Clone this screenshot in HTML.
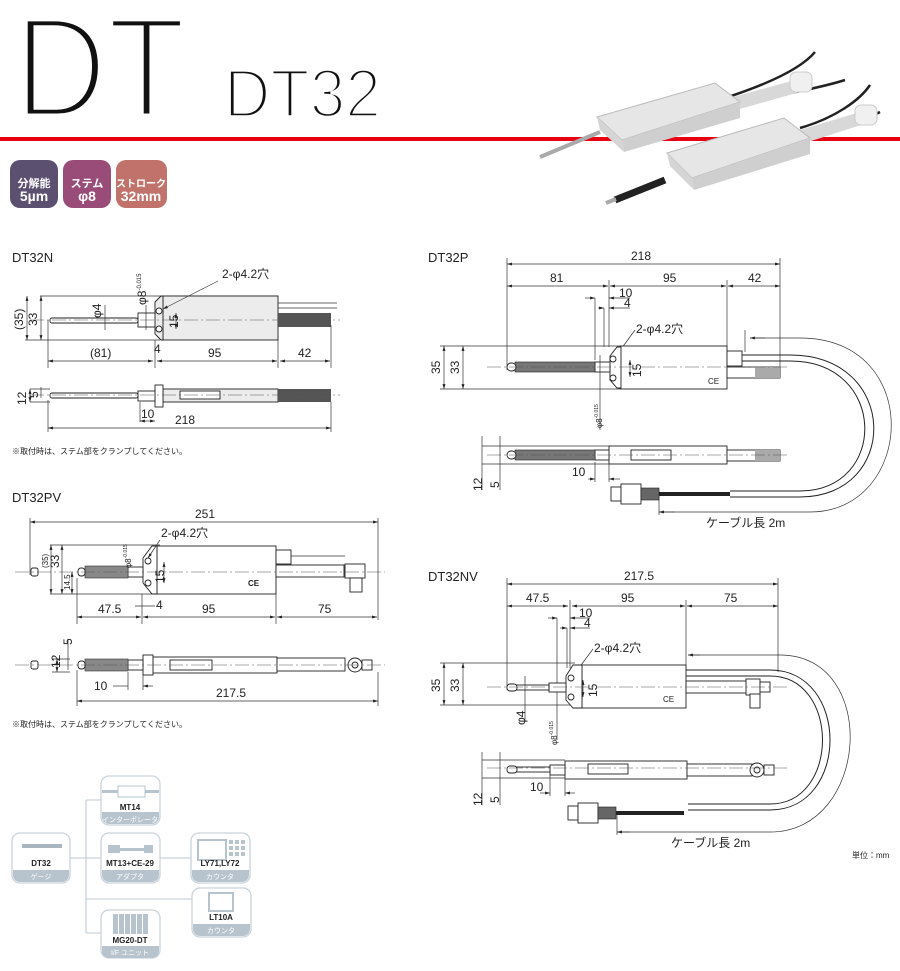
<!DOCTYPE html>
<html><head><meta charset="utf-8"><style>
html,body{margin:0;padding:0;background:#fff;width:900px;height:971px;overflow:hidden}
svg{display:block}
text{font-family:"Liberation Sans","Noto Sans CJK JP",sans-serif;fill:#222}
.d{stroke:#333;stroke-width:.7;fill:none}
.o{stroke:#222;stroke-width:.9;fill:#fff}
.g{stroke:#222;stroke-width:.9;fill:#ececec}
.c{stroke:#555;stroke-width:.5;stroke-dasharray:14 3 2 3;fill:none}
.t{font-size:12px}
.s{font-size:8px}
.bx{fill:#fff;stroke:#c9d3db;stroke-width:1.3}
.bl{stroke:#c9d3db;stroke-width:1.3;fill:none}
.bt{font-size:8px;font-weight:bold;fill:#222}
.bb{font-size:7px;fill:#fff}
</style></head><body>
<svg width="900" height="971" viewBox="0 0 900 971" xmlns="http://www.w3.org/2000/svg">
<defs>
<marker id="a" viewBox="0 0 10 10" refX="10" refY="5" markerWidth="7" markerHeight="7" orient="auto-start-reverse"><path d="M0,2L10,5L0,8z" fill="#222"/></marker>
</defs>
<!-- title -->
<text x="14" y="117" font-size="144" textLength="172" lengthAdjust="spacingAndGlyphs" style="fill:#111;stroke:#fff;stroke-width:7">DT</text>
<text x="224" y="117" font-size="69" textLength="157" lengthAdjust="spacingAndGlyphs" style="fill:#111;stroke:#fff;stroke-width:3.5">DT32</text>
<rect x="0" y="137" width="900" height="4" fill="#e60012"/>
<!-- photo -->
<g>
<path d="M725,98 C765,85 800,70 815,52" stroke="#222" stroke-width="2.5" fill="none"/>
<path d="M735,104 C780,95 820,88 845,80" stroke="#222" stroke-width="2.5" fill="none"/>
<path d="M800,128 C835,118 860,100 870,85" stroke="#222" stroke-width="2.5" fill="none"/>
<path d="M805,134 C840,128 865,120 880,112" stroke="#222" stroke-width="2.5" fill="none"/>
<polygon points="715,102 795,80 800,92 722,114" fill="#d8d8d8"/>
<rect x="790" y="72" width="22" height="20" rx="6" fill="#f0f0f0" stroke="#ccc"/>
<polygon points="597,117 715,83 740,102 622,140" fill="#e6e6e6" stroke="#bbb"/>
<polygon points="622,140 740,102 740,118 624,152" fill="#cfcfcf"/>
<polygon points="597,117 622,140 624,152 600,130" fill="#d5d5d5"/>
<line x1="540" y1="157" x2="600" y2="132" stroke="#aaa" stroke-width="4"/>
<polygon points="800,130 860,112 864,124 808,142" fill="#d8d8d8"/>
<rect x="855" y="105" width="22" height="20" rx="6" fill="#f0f0f0" stroke="#ccc"/>
<polygon points="667,153 784,118 810,138 692,178" fill="#e6e6e6" stroke="#bbb"/>
<polygon points="692,178 810,138 810,154 694,190" fill="#cfcfcf"/>
<polygon points="667,153 692,178 694,190 670,166" fill="#d5d5d5"/>
<line x1="615" y1="200" x2="665" y2="180" stroke="#222" stroke-width="7"/>
<line x1="606" y1="203" x2="616" y2="199" stroke="#aaa" stroke-width="4"/>
</g>
<!-- badges -->
<rect x="10" y="160" width="48" height="48" rx="10" fill="#5c5070"/>
<rect x="63" y="160" width="48" height="48" rx="10" fill="#9a4c78"/>
<rect x="116" y="160" width="51" height="48" rx="10" fill="#c0726b"/>
<g font-weight="bold" text-anchor="middle" style="fill:#fff">
<text x="34" y="187" font-size="11" style="fill:#fff">分解能</text><text x="34" y="201" font-size="14" style="fill:#fff">5µm</text>
<text x="87" y="187" font-size="11" style="fill:#fff">ステム</text><text x="87" y="201" font-size="14" style="fill:#fff">φ8</text>
<text x="141" y="187" font-size="10" style="fill:#fff">ストローク</text><text x="141" y="201" font-size="14" style="fill:#fff">32mm</text>
</g>

<!-- DT32N -->
<text x="12" y="262" font-size="13">DT32N</text>
<line class="d" x1="40" y1="296" x2="278" y2="296"/><line class="d" x1="25" y1="340" x2="160" y2="340"/>
<rect class="g" x="163" y="296" width="115" height="44"/>
<polygon class="g" points="155,302 161,296 163,296 163,340 161,340 155,334"/>
<rect class="o" x="138" y="313" width="17" height="14"/>
<rect class="o" x="50" y="318" width="88" height="5" rx="2"/>
<rect x="278" y="313" width="53" height="14" fill="#555"/>
<line class="d" x1="278" y1="303" x2="337" y2="303"/><line class="d" x1="278" y1="308" x2="337" y2="308"/>
<line class="c" x1="30" y1="320" x2="340" y2="320"/>
<circle class="o" cx="159" cy="311" r="3"/><circle class="o" cx="159" cy="329" r="3"/>
<line class="d" x1="27" y1="296" x2="27" y2="340" marker-start="url(#a)" marker-end="url(#a)"/>
<line class="d" x1="41" y1="296" x2="41" y2="340" marker-start="url(#a)" marker-end="url(#a)"/>
<text class="t" transform="translate(23,330) rotate(-90)">(35)</text>
<text class="t" transform="translate(37,326) rotate(-90)">33</text>
<line class="d" x1="105" y1="305" x2="105" y2="330"/>
<text class="t" transform="translate(101,318) rotate(-90)">φ4</text>
<line class="d" x1="146" y1="305" x2="146" y2="330"/>
<text class="t" transform="translate(146,305) rotate(-90)">φ8<tspan font-size="6" dy="-5">-0.015</tspan></text>
<line class="d" x1="176" y1="313" x2="176" y2="329" marker-start="url(#a)" marker-end="url(#a)"/>
<text class="t" transform="translate(178,328) rotate(-90)">15</text>
<text class="t" x="222" y="278">2-φ4.2穴</text>
<line class="d" x1="218" y1="281" x2="163" y2="309" marker-end="url(#a)"/>
<line class="d" x1="48" y1="320" x2="48" y2="368"/><line class="d" x1="155" y1="340" x2="155" y2="368"/><line class="d" x1="278" y1="340" x2="278" y2="368"/><line class="d" x1="331" y1="325" x2="331" y2="368"/>
<line class="d" x1="48" y1="361" x2="153" y2="361" marker-start="url(#a)" marker-end="url(#a)"/>
<line class="d" x1="157" y1="361" x2="277" y2="361" marker-start="url(#a)" marker-end="url(#a)"/>
<line class="d" x1="280" y1="361" x2="330" y2="361" marker-start="url(#a)" marker-end="url(#a)"/>
<text class="t" x="90" y="357">(81)</text><text class="t" x="154" y="353">4</text><text class="t" x="208" y="357">95</text><text class="t" x="298" y="357">42</text>
<!-- side -->
<rect class="g" x="163" y="389" width="115" height="13"/>
<rect class="o" x="155" y="385" width="8" height="22"/>
<rect class="o" x="138" y="391" width="17" height="10"/>
<rect class="o" x="50" y="393" width="88" height="5" rx="2"/>
<rect x="278" y="389" width="53" height="13" fill="#555"/>
<rect class="o" x="180" y="391" width="40" height="8"/>
<line class="c" x1="30" y1="395" x2="340" y2="395"/>
<line class="d" x1="30" y1="389" x2="50" y2="389"/><line class="d" x1="30" y1="402" x2="50" y2="402"/>
<line class="d" x1="30" y1="389" x2="30" y2="402" marker-start="url(#a)" marker-end="url(#a)"/>
<line class="d" x1="41" y1="387" x2="41" y2="398"/>
<text class="t" transform="translate(26,405) rotate(-90)">12</text><text class="t" transform="translate(38,398) rotate(-90)">5</text>
<line class="d" x1="48" y1="400" x2="48" y2="432"/><line class="d" x1="331" y1="402" x2="331" y2="432"/><line class="d" x1="140" y1="402" x2="140" y2="422"/>
<line class="d" x1="140" y1="421" x2="155" y2="421" marker-start="url(#a)" marker-end="url(#a)"/>
<text class="t" x="141" y="418">10</text>
<line class="d" x1="48" y1="428" x2="331" y2="428" marker-start="url(#a)" marker-end="url(#a)"/>
<text class="t" x="175" y="424">218</text>
<text x="12" y="454" font-size="8">※取付時は、ステム部をクランプしてください。</text>

<!-- DT32PV -->
<text x="12" y="502" font-size="13">DT32PV</text>
<line class="d" x1="30" y1="522" x2="378" y2="522" marker-start="url(#a)" marker-end="url(#a)"/>
<text class="t" x="195" y="518">251</text>
<line class="d" x1="30" y1="518" x2="30" y2="575"/><line class="d" x1="378" y1="518" x2="378" y2="620"/>
<line class="d" x1="50" y1="545" x2="160" y2="545"/><line class="d" x1="50" y1="594" x2="160" y2="594"/>
<rect class="o" x="157" y="546" width="119" height="48"/>
<polygon class="o" points="143,558 152,546 157,546 157,594 152,594 143,583"/>
<rect class="o" x="128" y="567" width="15" height="10"/>
<rect x="85" y="566" width="43" height="12" fill="#888" stroke="#333" stroke-width=".6"/>
<rect class="o" x="78" y="568" width="7" height="8" rx="3"/>
<rect class="o" x="31" y="568" width="7" height="8" rx="2"/>
<rect class="o" x="276" y="565" width="68" height="12"/>
<rect class="o" x="276" y="550" width="15" height="14"/>
<line class="d" x1="291" y1="556" x2="345" y2="556"/>
<rect class="o" x="345" y="564" width="20" height="14"/>
<rect class="o" x="350" y="578" width="12" height="14"/>
<line class="c" x1="15" y1="572" x2="385" y2="572"/>
<circle class="o" cx="148" cy="561" r="3"/><circle class="o" cx="148" cy="583" r="3"/>
<text x="248" y="586" font-size="8" font-weight="bold">CE</text>
<line class="d" x1="51" y1="545" x2="51" y2="594" marker-start="url(#a)" marker-end="url(#a)"/>
<line class="d" x1="62" y1="545" x2="62" y2="594" marker-start="url(#a)" marker-end="url(#a)"/>
<line class="d" x1="72" y1="572" x2="72" y2="594" marker-start="url(#a)" marker-end="url(#a)"/>
<text class="s" transform="translate(48,568) rotate(-90)">(35)</text><text class="t" transform="translate(59,568) rotate(-90)">33</text><text class="s" transform="translate(70,590) rotate(-90)">14.5</text>
<text class="s" transform="translate(131,568) rotate(-90)">φ8<tspan font-size="5" dy="-4">-0.015</tspan></text>
<line class="d" x1="164" y1="562" x2="164" y2="583" marker-start="url(#a)" marker-end="url(#a)"/>
<text class="t" transform="translate(164,583) rotate(-90)">15</text>
<text class="t" x="161" y="537">2-φ4.2穴</text>
<line class="d" x1="160" y1="540" x2="148" y2="558" marker-end="url(#a)"/>
<line class="d" x1="77" y1="578" x2="77" y2="624"/><line class="d" x1="142" y1="594" x2="142" y2="624"/><line class="d" x1="276" y1="578" x2="276" y2="624"/>
<line class="d" x1="135" y1="606" x2="155" y2="606"/><text class="t" x="156" y="609">4</text>
<line class="d" x1="77" y1="617" x2="141" y2="617" marker-start="url(#a)" marker-end="url(#a)"/>
<line class="d" x1="143" y1="617" x2="275" y2="617" marker-start="url(#a)" marker-end="url(#a)"/>
<line class="d" x1="277" y1="617" x2="377" y2="617" marker-start="url(#a)" marker-end="url(#a)"/>
<text class="t" x="98" y="613">47.5</text><text class="t" x="202" y="613">95</text><text class="t" x="318" y="613">75</text>
<!-- PV side -->
<rect class="o" x="153" y="657" width="124" height="16"/>
<rect class="o" x="143" y="655" width="10" height="20"/>
<rect class="o" x="128" y="660" width="15" height="10"/>
<rect x="85" y="659" width="43" height="12" fill="#888" stroke="#333" stroke-width=".6"/>
<rect class="o" x="78" y="661" width="7" height="8" rx="3"/>
<rect class="o" x="31" y="661" width="7" height="8" rx="2"/>
<rect class="o" x="170" y="660" width="42" height="10"/>
<rect class="o" x="277" y="658" width="68" height="13"/>
<circle class="o" cx="355" cy="665" r="7"/><circle class="o" cx="355" cy="665" r="3"/>
<rect class="o" x="362" y="660" width="10" height="10"/>
<line class="c" x1="15" y1="665" x2="385" y2="665"/>
<line class="d" x1="52" y1="659" x2="70" y2="659"/><line class="d" x1="52" y1="672" x2="70" y2="672"/>
<line class="d" x1="57" y1="659" x2="57" y2="672" marker-start="url(#a)" marker-end="url(#a)"/>
<line class="d" x1="68" y1="640" x2="68" y2="670"/>
<text class="t" transform="translate(60,668) rotate(-90)">12</text><text class="t" transform="translate(72,645) rotate(-90)">5</text>
<line class="d" x1="77" y1="670" x2="77" y2="706"/><line class="d" x1="378" y1="672" x2="378" y2="706"/><line class="d" x1="128" y1="672" x2="128" y2="690"/><line class="d" x1="143" y1="675" x2="143" y2="690"/>
<line class="d" x1="113" y1="686" x2="128" y2="686"/><line class="d" x1="143" y1="686" x2="153" y2="686" marker-start="url(#a)"/>
<text class="t" x="94" y="690">10</text>
<line class="d" x1="77" y1="701" x2="378" y2="701" marker-start="url(#a)" marker-end="url(#a)"/>
<text class="t" x="216" y="697">217.5</text>
<text x="12" y="727" font-size="8">※取付時は、ステム部をクランプしてください。</text>

<!-- DT32P -->
<text x="428" y="262" font-size="13">DT32P</text>
<line class="d" x1="507" y1="264" x2="780" y2="264" marker-start="url(#a)" marker-end="url(#a)"/>
<text class="t" x="631" y="260">218</text>
<line class="d" x1="507" y1="286" x2="608" y2="286" marker-start="url(#a)" marker-end="url(#a)"/>
<line class="d" x1="610" y1="286" x2="726" y2="286" marker-start="url(#a)" marker-end="url(#a)"/>
<line class="d" x1="728" y1="286" x2="780" y2="286" marker-start="url(#a)" marker-end="url(#a)"/>
<text class="t" x="550" y="282">81</text><text class="t" x="663" y="282">95</text><text class="t" x="748" y="282">42</text>
<line class="d" x1="507" y1="258" x2="507" y2="370"/><line class="d" x1="780" y1="258" x2="780" y2="375"/><line class="d" x1="727" y1="280" x2="727" y2="347"/>
<line class="d" x1="609" y1="280" x2="609" y2="347"/><line class="d" x1="595" y1="298" x2="595" y2="360"/><line class="d" x1="604" y1="308" x2="604" y2="347"/>
<line class="d" x1="585" y1="298" x2="595" y2="298" marker-end="url(#a)"/><line class="d" x1="609" y1="298" x2="630" y2="298" marker-start="url(#a)"/>
<line class="d" x1="598" y1="308" x2="604" y2="308" marker-end="url(#a)"/><line class="d" x1="609" y1="308" x2="630" y2="308" marker-start="url(#a)"/>
<text class="t" x="619" y="297">10</text><text class="t" x="624" y="307">4</text>
<text class="t" x="636" y="333">2-φ4.2穴</text>
<line class="d" x1="635" y1="330" x2="616" y2="356" marker-end="url(#a)"/>
<line class="d" x1="440" y1="346" x2="620" y2="346"/><line class="d" x1="440" y1="389" x2="620" y2="389"/>
<rect class="o" x="620" y="346" width="107" height="43"/>
<polygon class="o" points="610,356 617,347 621,347 621,388 617,388 610,380"/>
<rect class="o" x="595" y="362" width="15" height="10"/>
<rect x="515" y="362" width="80" height="10" fill="#777" stroke="#222" stroke-width=".6"/>
<rect class="o" x="507" y="363" width="9" height="8" rx="4"/>
<circle class="o" cx="613" cy="359" r="3"/><circle class="o" cx="613" cy="378" r="3"/>
<rect class="o" x="727" y="351" width="15" height="15"/>
<rect class="o" x="727" y="367" width="53" height="11"/><rect x="755" y="367" width="25" height="11" fill="#aaa"/>
<line class="c" x1="487" y1="367" x2="790" y2="367"/>
<text x="708" y="384" font-size="8">CE</text>
<line class="d" x1="444" y1="346" x2="444" y2="389" marker-start="url(#a)" marker-end="url(#a)"/>
<line class="d" x1="463" y1="346" x2="463" y2="389" marker-start="url(#a)" marker-end="url(#a)"/>
<text class="t" transform="translate(440,374) rotate(-90)">35</text><text class="t" transform="translate(459,374) rotate(-90)">33</text>
<line class="d" x1="630" y1="360" x2="630" y2="377" marker-start="url(#a)" marker-end="url(#a)"/>
<text class="t" transform="translate(641,377) rotate(-90)">15</text>
<line class="d" x1="600" y1="355" x2="600" y2="430"/>
<text class="s" transform="translate(602,428) rotate(-90)">φ8<tspan font-size="5" dy="-4">-0.015</tspan></text>
<!-- cable P -->
<path d="M742,355 L790,355 C900,355 900,497 800,497 L730,497" stroke="#222" stroke-width="1" fill="none"/>
<path d="M742,361 L790,361 C888,361 888,491 800,491 L730,491" stroke="#222" stroke-width="1" fill="none"/>
<rect x="720" y="489" width="8" height="10" fill="#fff"/>
<path d="M750,338 L800,338 C925,338 915,512 810,512 L659,512" class="d"/>
<line class="d" x1="750" y1="338" x2="765" y2="338" marker-start="url(#a)"/>
<line class="d" x1="659" y1="512" x2="675" y2="512" marker-start="url(#a)"/>
<line class="d" x1="659" y1="490" x2="659" y2="515"/><line class="d" x1="745" y1="330" x2="745" y2="352"/>
<rect class="o" x="611" y="487" width="10" height="14"/>
<rect class="o" x="621" y="484" width="20" height="20"/>
<rect x="641" y="488" width="18" height="12" fill="#666" stroke="#222" stroke-width=".6"/>
<line x1="659" y1="494" x2="730" y2="494" stroke="#222" stroke-width="4"/>
<text class="t" x="706" y="527">ケーブル長 2m</text>
<!-- P side -->
<rect class="o" x="609" y="446" width="118" height="18"/>
<rect class="o" x="595" y="450" width="14" height="10"/>
<rect x="515" y="450" width="80" height="10" fill="#777" stroke="#222" stroke-width=".6"/>
<rect class="o" x="507" y="451" width="9" height="8" rx="4"/>
<rect class="o" x="631" y="450" width="40" height="10"/>
<rect class="o" x="727" y="450" width="53" height="11"/><rect x="755" y="450" width="25" height="11" fill="#aaa"/>
<line class="c" x1="487" y1="455" x2="790" y2="455"/>
<line class="d" x1="482" y1="446" x2="609" y2="446"/><line class="d" x1="482" y1="464" x2="609" y2="464"/>
<line class="d" x1="482" y1="436" x2="482" y2="490"/><line class="d" x1="500" y1="436" x2="500" y2="490"/>
<text class="t" transform="translate(482,491) rotate(-90)">12</text><text class="t" transform="translate(499,488) rotate(-90)">5</text>
<line class="d" x1="595" y1="462" x2="595" y2="482"/><line class="d" x1="609" y1="464" x2="609" y2="482"/>
<line class="d" x1="588" y1="479" x2="595" y2="479" marker-end="url(#a)"/><line class="d" x1="609" y1="479" x2="620" y2="479" marker-start="url(#a)"/>
<text class="t" x="572" y="476">10</text>

<!-- DT32NV -->
<text x="428" y="581" font-size="13">DT32NV</text>
<line class="d" x1="507" y1="584" x2="778" y2="584" marker-start="url(#a)" marker-end="url(#a)"/>
<text class="t" x="624" y="580">217.5</text>
<line class="d" x1="507" y1="606" x2="568" y2="606" marker-start="url(#a)" marker-end="url(#a)"/>
<line class="d" x1="572" y1="606" x2="685" y2="606" marker-start="url(#a)" marker-end="url(#a)"/>
<line class="d" x1="687" y1="606" x2="778" y2="606" marker-start="url(#a)" marker-end="url(#a)"/>
<text class="t" x="526" y="602">47.5</text><text class="t" x="621" y="602">95</text><text class="t" x="724" y="602">75</text>
<line class="d" x1="507" y1="578" x2="507" y2="690"/><line class="d" x1="778" y1="578" x2="778" y2="672"/><line class="d" x1="686" y1="600" x2="686" y2="668"/>
<line class="d" x1="570" y1="600" x2="570" y2="668"/><line class="d" x1="557" y1="618" x2="557" y2="740"/><line class="d" x1="567" y1="628" x2="567" y2="668"/>
<line class="d" x1="548" y1="618" x2="557" y2="618" marker-end="url(#a)"/><line class="d" x1="570" y1="618" x2="590" y2="618" marker-start="url(#a)"/>
<line class="d" x1="560" y1="628" x2="567" y2="628" marker-end="url(#a)"/><line class="d" x1="570" y1="628" x2="590" y2="628" marker-start="url(#a)"/>
<text class="t" x="579" y="617">10</text><text class="t" x="584" y="627">4</text>
<text class="t" x="594" y="652">2-φ4.2穴</text>
<line class="d" x1="593" y1="649" x2="573" y2="676" marker-end="url(#a)"/>
<line class="d" x1="440" y1="663" x2="575" y2="663"/><line class="d" x1="440" y1="705" x2="575" y2="705"/>
<rect class="o" x="582" y="665" width="104" height="43"/>
<polygon class="o" points="566,676 573,665 582,665 582,708 573,708 566,700"/>
<rect class="o" x="549" y="683" width="17" height="9"/>
<rect class="o" x="515" y="685" width="34" height="5"/>
<rect class="o" x="507" y="684" width="10" height="7" rx="3"/>
<circle class="o" cx="571" cy="678" r="3"/><circle class="o" cx="571" cy="697" r="3"/>
<rect class="o" x="686" y="681" width="70" height="12"/>
<rect class="o" x="746" y="679" width="14" height="16"/><rect class="o" x="760" y="682" width="10" height="10"/>
<rect class="o" x="750" y="694" width="10" height="14"/>
<line class="c" x1="487" y1="687" x2="790" y2="687"/>
<text x="663" y="702" font-size="8">CE</text>
<line class="d" x1="444" y1="663" x2="444" y2="705" marker-start="url(#a)" marker-end="url(#a)"/>
<line class="d" x1="463" y1="663" x2="463" y2="705" marker-start="url(#a)" marker-end="url(#a)"/>
<text class="t" transform="translate(440,692) rotate(-90)">35</text><text class="t" transform="translate(459,692) rotate(-90)">33</text>
<line class="d" x1="583" y1="680" x2="583" y2="697" marker-start="url(#a)" marker-end="url(#a)"/>
<text class="t" transform="translate(597,697) rotate(-90)">15</text>
<line class="d" x1="525" y1="676" x2="525" y2="722" />
<text class="t" transform="translate(525,725) rotate(-90)">φ4</text>
<text class="s" transform="translate(557,745) rotate(-90)">φ8<tspan font-size="5" dy="-4">-0.015</tspan></text>
<!-- NV cable -->
<path d="M686,670 L770,670 C850,670 850,810 770,810 L686,810" stroke="#222" stroke-width="1" fill="none"/>
<path d="M686,676 L770,676 C840,676 840,804 770,804 L686,804" stroke="#222" stroke-width="1" fill="none"/>
<rect x="680" y="802" width="8" height="10" fill="#fff"/>
<path d="M688,655 L780,655 C880,655 870,832 770,832 L617,832" class="d"/>
<line class="d" x1="688" y1="655" x2="700" y2="655" marker-start="url(#a)"/>
<line class="d" x1="617" y1="832" x2="630" y2="832" marker-start="url(#a)"/>
<line class="d" x1="617" y1="815" x2="617" y2="835"/>
<rect class="o" x="568" y="806" width="10" height="14"/>
<rect class="o" x="578" y="803" width="20" height="20"/>
<rect x="598" y="807" width="18" height="12" fill="#666" stroke="#222" stroke-width=".6"/>
<line x1="616" y1="813" x2="684" y2="813" stroke="#222" stroke-width="4"/>
<text class="t" x="671" y="847">ケーブル長 2m</text>
<text x="852" y="858" font-size="8">単位：mm</text>
<!-- NV side -->
<rect class="o" x="565" y="761" width="122" height="18"/>
<rect class="o" x="550" y="765" width="15" height="10"/>
<rect class="o" x="515" y="767" width="35" height="5"/>
<rect class="o" x="507" y="766" width="10" height="7" rx="3"/>
<rect class="o" x="588" y="764" width="40" height="10"/>
<rect class="o" x="687" y="764" width="65" height="12"/>
<circle class="o" cx="757" cy="770" r="7"/><circle class="o" cx="757" cy="770" r="3"/>
<rect class="o" x="764" y="765" width="10" height="10"/>
<line class="c" x1="487" y1="768" x2="790" y2="768"/>
<line class="d" x1="482" y1="760" x2="565" y2="760"/><line class="d" x1="482" y1="778" x2="565" y2="778"/>
<line class="d" x1="482" y1="752" x2="482" y2="805"/><line class="d" x1="500" y1="752" x2="500" y2="805"/>
<text class="t" transform="translate(482,806) rotate(-90)">12</text><text class="t" transform="translate(499,803) rotate(-90)">5</text>
<line class="d" x1="550" y1="775" x2="550" y2="796"/><line class="d" x1="565" y1="779" x2="565" y2="796"/>
<line class="d" x1="540" y1="793" x2="550" y2="793" marker-end="url(#a)"/><line class="d" x1="565" y1="793" x2="575" y2="793" marker-start="url(#a)"/>
<text class="t" x="530" y="791">10</text>

<!-- system diagram -->
<path class="bl" d="M70,858 L101,858 M86,800 L86,933 M86,800 L101,800 M86,933 L101,933 M86,899 L192,899 M160,858 L191,858"/>
<g>
<rect class="bx" x="12" y="833" width="58" height="50" rx="8"/>
<path d="M13,870 H69 V875 a7,7 0 0 1 -7,7 H20 a7,7 0 0 1 -7,-7z" fill="#b7c4ce"/>
<rect x="22" y="844" width="40" height="4" fill="#a9b6c0"/>
<text class="bt" x="41" y="866" text-anchor="middle">DT32</text><text class="bb" x="41" y="879" text-anchor="middle">ゲージ</text>
</g>
<g>
<rect class="bx" x="101" y="776" width="59" height="49" rx="8"/>
<path d="M102,812 H159 V817 a7,7 0 0 1 -7,7 H109 a7,7 0 0 1 -7,-7z" fill="#b7c4ce"/>
<rect x="102" y="790" width="57" height="3" fill="#b7c4ce"/><rect x="118" y="786" width="27" height="11" fill="#fff" stroke="#b7c4ce"/>
<text class="bt" x="130" y="810" text-anchor="middle">MT14</text><text class="bb" x="130" y="822" text-anchor="middle">インターポレータ</text>
</g>
<g>
<rect class="bx" x="101" y="833" width="59" height="50" rx="8"/>
<path d="M102,870 H159 V875 a7,7 0 0 1 -7,7 H109 a7,7 0 0 1 -7,-7z" fill="#b7c4ce"/>
<rect x="108" y="845" width="12" height="8" fill="#b7c4ce"/><rect x="120" y="848" width="25" height="3" fill="#b7c4ce"/><rect x="144" y="845" width="9" height="8" fill="#b7c4ce"/>
<text class="bt" x="130" y="866" text-anchor="middle">MT13+CE-29</text><text class="bb" x="130" y="879" text-anchor="middle">アダプタ</text>
</g>
<g>
<rect class="bx" x="191" y="833" width="59" height="50" rx="8"/>
<path d="M192,870 H249 V875 a7,7 0 0 1 -7,7 H199 a7,7 0 0 1 -7,-7z" fill="#b7c4ce"/>
<rect x="198" y="840" width="28" height="20" fill="#fff" stroke="#b7c4ce" stroke-width="2"/>
<g fill="#b7c4ce"><rect x="229" y="840" width="4" height="4"/><rect x="235" y="840" width="4" height="4"/><rect x="241" y="840" width="4" height="4"/><rect x="229" y="846" width="4" height="4"/><rect x="235" y="846" width="4" height="4"/><rect x="241" y="846" width="4" height="4"/><rect x="229" y="852" width="4" height="4"/><rect x="235" y="852" width="4" height="4"/><rect x="241" y="852" width="4" height="4"/></g>
<text class="bt" x="220" y="866" text-anchor="middle">LY71,LY72</text><text class="bb" x="220" y="879" text-anchor="middle">カウンタ</text>
</g>
<g>
<rect class="bx" x="192" y="888" width="59" height="49" rx="8"/>
<path d="M193,924 H250 V929 a7,7 0 0 1 -7,7 H200 a7,7 0 0 1 -7,-7z" fill="#b7c4ce"/>
<rect x="209" y="893" width="24" height="18" fill="#fff" stroke="#b7c4ce" stroke-width="2"/>
<text class="bt" x="221" y="920" text-anchor="middle">LT10A</text><text class="bb" x="221" y="933" text-anchor="middle">カウンタ</text>
</g>
<g>
<rect class="bx" x="101" y="910" width="59" height="48" rx="8"/>
<path d="M102,946 H159 V951 a7,7 0 0 1 -7,7 H109 a7,7 0 0 1 -7,-7z" fill="#b7c4ce"/>
<g fill="#b7c4ce"><rect x="113" y="914" width="5" height="20"/><rect x="119" y="914" width="5" height="20"/><rect x="125" y="914" width="5" height="20"/><rect x="131" y="914" width="5" height="20"/><rect x="137" y="914" width="5" height="20"/><rect x="143" y="914" width="5" height="20"/></g>
<text class="bt" x="130" y="943" text-anchor="middle">MG20-DT</text><text class="bb" x="130" y="955" text-anchor="middle">I/F ユニット</text>
</g>
</svg>
</body></html>
